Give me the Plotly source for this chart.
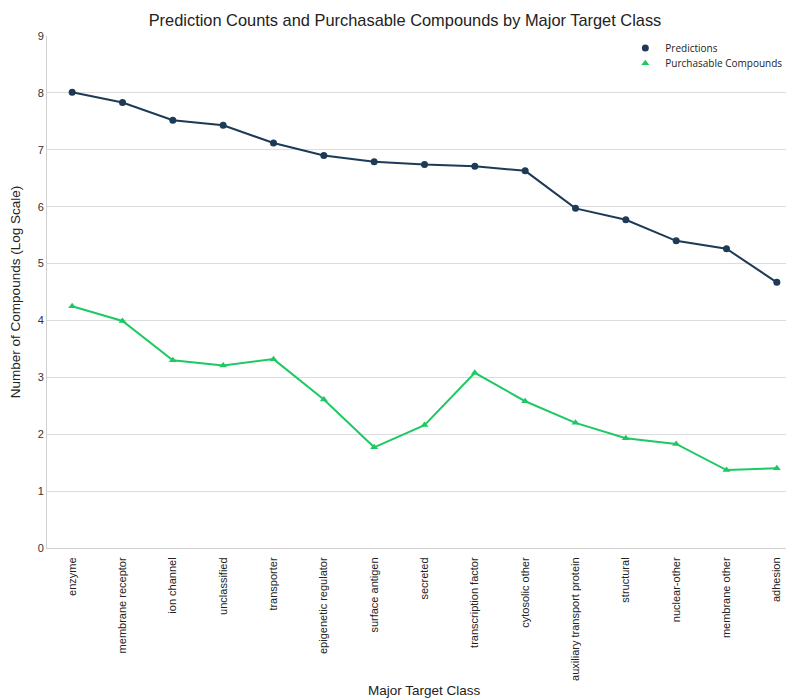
import plotly.graph_objects as go

categories = ["enzyme", "membrane receptor", "ion channel", "unclassified", "transporter",
              "epigenetic regulator", "surface antigen", "secreted", "transcription factor",
              "cytosolic other", "auxiliary transport protein", "structural", "nuclear-other",
              "membrane other", "adhesion"]
predictions = [8.01, 7.83, 7.52, 7.43, 7.12, 6.90, 6.79, 6.74, 6.71, 6.63, 5.97, 5.77, 5.40, 5.26, 4.67]
purchasable = [4.25, 3.99, 3.30, 3.21, 3.32, 2.61, 1.77, 2.16, 3.08, 2.58, 2.20, 1.93, 1.83, 1.37, 1.40]

navy = "#1d3a56"
green = "#1ec964"

fig = go.Figure()
fig.add_trace(go.Scatter(x=categories, y=predictions, mode="lines+markers", name="Predictions",
                         legendgroup="p", showlegend=False,
                         line=dict(color=navy, width=2),
                         marker=dict(symbol="circle", size=7, color=navy)))
fig.add_trace(go.Scatter(x=categories, y=purchasable, mode="lines+markers", name="Purchasable Compounds",
                         legendgroup="c", showlegend=False,
                         line=dict(color=green, width=2),
                         marker=dict(symbol="triangle-up", size=7, color=green)))
# legend entries (marker only, as in the reference)
fig.add_trace(go.Scatter(x=[None], y=[None], mode="markers", name="Predictions", legendgroup="p",
                         legend="legend",
                         marker=dict(symbol="circle", size=7, color=navy)))
fig.add_trace(go.Scatter(x=[None], y=[None], mode="markers", name="Purchasable Compounds", legendgroup="c",
                         legend="legend2",
                         marker=dict(symbol="triangle-up", size=7, color=green)))

legend_style = dict(xanchor="left", yanchor="middle", bgcolor="rgba(255,255,255,0)",
                    font=dict(family="Open Sans", size=10, color="#222"))

fig.update_layout(
    width=794, height=700,
    margin=dict(l=39, r=0, t=28, b=160),
    paper_bgcolor="white", plot_bgcolor="white",
    title=dict(text="Prediction Counts and Purchasable Compounds by Major Target Class",
               x=0.5, xanchor="center", y=0.983, yanchor="middle",
               font=dict(family="Liberation Sans, Arial", size=16.4, color="#222")),
    font=dict(family="Liberation Sans, Arial", color="#333"),
    legend=dict(x=0.766, y=0.9766, **legend_style),
    legend2=dict(x=0.766, y=0.947, **legend_style),
    xaxis=dict(tickangle=-90, tickfont=dict(size=11, color="#222"),
               range=[-0.5, 14.5], showgrid=False, showline=True, linecolor="#d0d0d0",
               linewidth=1, ticks="", ticklabelstandoff=4),
    yaxis=dict(title=dict(text="Number of Compounds (Log Scale)", font=dict(size=13.5, color="#222")),
               range=[0, 9], dtick=1, showgrid=True, gridcolor="#dcdcdc", gridwidth=1,
               showline=True, linecolor="#d0d0d0", linewidth=1, zeroline=False,
               tickfont=dict(size=11, color="#333"), ticks=""),
    annotations=[dict(text="Major Target Class", xref="paper", yref="paper", x=0.5, y=-0.279,
                      xanchor="center", yanchor="middle", showarrow=False,
                      font=dict(size=13.5, color="#222"))],
)

fig.write_html("out.html")
